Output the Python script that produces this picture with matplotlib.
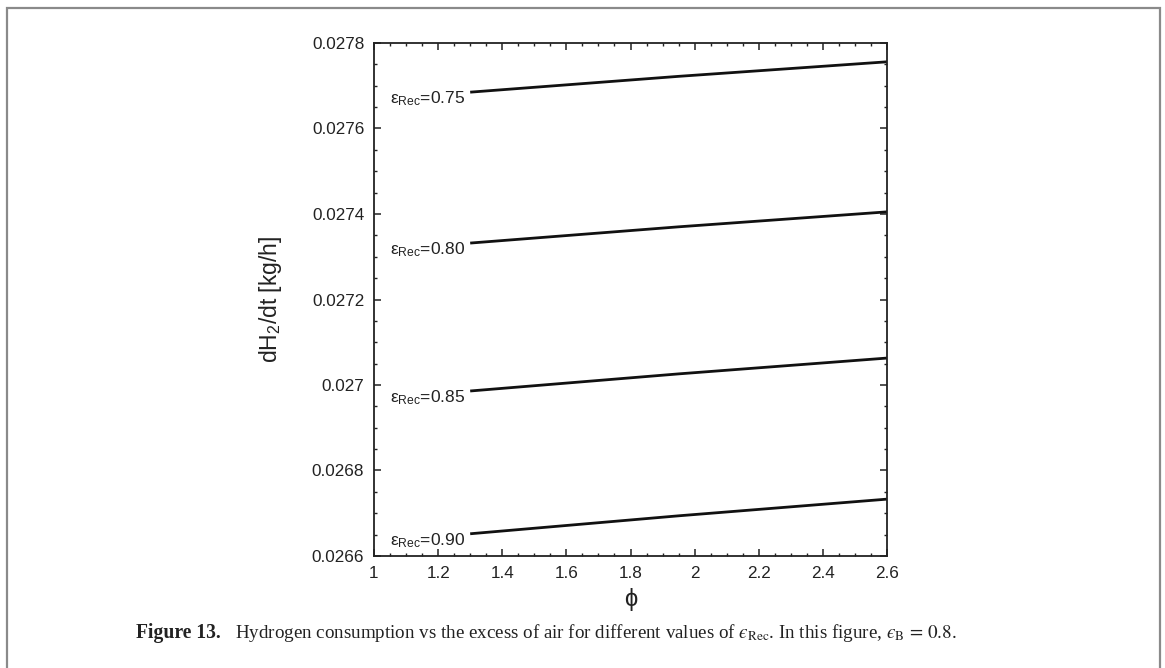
import numpy as np
import matplotlib
matplotlib.use("Agg")
import matplotlib.pyplot as plt
import matplotlib.patches as mpatches
from matplotlib.ticker import MultipleLocator, FuncFormatter

plt.rcParams['font.family'] = ['Liberation Sans', 'DejaVu Sans']
plt.rcParams['mathtext.fontset'] = 'custom'
plt.rcParams['mathtext.rm'] = 'Liberation Sans'
plt.rcParams['mathtext.it'] = 'Liberation Sans:italic'

# readings from the figure
phi = [1.3, 1.95, 2.6]
eps_rec = ['0.75', '0.80', '0.85', '0.90']
h2_rate = [
    [0.027685, 0.027722, 0.027756],
    [0.027332, 0.027370, 0.027405],
    [0.026986, 0.027026, 0.027063],
    [0.026652, 0.026694, 0.026733],
]
y_ticks = [0.0266, 0.0268, 0.027, 0.0272, 0.0274, 0.0276, 0.0278]
x_ticks = [1, 1.2, 1.4, 1.6, 1.8, 2, 2.2, 2.4, 2.6]

fig = plt.figure(figsize=(11.65, 6.68), dpi=100)
W, H = 1165.0, 668.0
ax = fig.add_axes([374 / W, 1 - 556 / H, (887 - 374) / W, (556 - 43) / H])

for lab, vals in zip(eps_rec, h2_rate):
    ax.plot(phi, vals, color='#111111', lw=2.0, solid_capstyle='butt')
    ax.annotate('ε$_{\\mathrm{Rec}}$=' + lab, xy=(phi[0], vals[0]),
                xytext=(-3.5, -8), textcoords='offset points',
                ha='right', va='baseline', fontsize=12.5, color='#222222')

ax.set_xlim(1, 2.6)
ax.set_ylim(0.0266, 0.0278)
ax.set_xticks(x_ticks)
ax.set_yticks(y_ticks)
ax.xaxis.set_major_formatter(FuncFormatter(lambda v, p: ('%g' % round(v, 4))))
ax.yaxis.set_major_formatter(FuncFormatter(lambda v, p: ('%g' % round(v, 5))))
ax.xaxis.set_minor_locator(MultipleLocator(0.05))
ax.yaxis.set_minor_locator(MultipleLocator(0.00005))
ax.tick_params(which='both', direction='in', top=True, right=True,
               labelsize=12.3, colors='#222222')
ax.tick_params(which='major', length=5, width=1.1, pad=7)
ax.tick_params(which='minor', length=2.5, width=1.0)
for sp in ax.spines.values():
    sp.set_linewidth(1.3)
    sp.set_color('#222222')

ax.set_ylabel('dH$_2$/dt [kg/h]', fontsize=16.5, color='#222222')
ax.yaxis.set_label_coords(-0.175, 0.5)
ax.set_xlabel('ϕ', fontsize=17, color='#222222', labelpad=5)

# outer frame
frame = mpatches.Rectangle((7 / W, -0.05), (1160 - 7) / W, 1.05 - 8 / H,
                           transform=fig.transFigure, fill=False,
                           edgecolor='#8a8a8a', lw=1.6)
fig.patches.append(frame)

# caption
t1 = fig.text(136 / W, 1 - 638 / H, 'Figure 13.', fontsize=14.1,
              fontweight='bold', family='Liberation Serif', va='baseline',
              color='#222222')
fig.canvas.draw()
bb = t1.get_window_extent()
fig.text((bb.x1 + 14) / W, 1 - 638 / H,
         'Hydrogen consumption vs the excess of air for different values of '
         '$\u03f5_{\\mathrm{Rec}}$. In this figure, $\u03f5_{\\mathrm{B}}\\,=\\,0.8$.',
         fontsize=13.7, family='Liberation Serif', math_fontfamily='stix',
         va='baseline', color='#222222')

fig.savefig('out.png', dpi=100)
